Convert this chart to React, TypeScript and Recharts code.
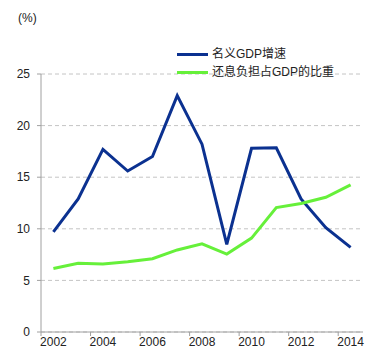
import { LineChart, Line, XAxis, YAxis, CartesianGrid, Legend } from 'recharts';

const years = ['2002', '2003', '2004', '2005', '2006', '2007', '2008', '2009', '2010', '2011', '2012', '2013', '2014'];
const gdpGrowth = [9.7, 12.9, 17.7, 15.6, 17.0, 22.9, 18.2, 8.5, 17.8, 17.85, 12.9, 10.1, 8.2];
const interestBurden = [6.15, 6.65, 6.6, 6.8, 7.1, 7.95, 8.55, 7.55, 9.1, 12.05, 12.45, 13.05, 14.25];
const yTicks = [0, 5, 10, 15, 20, 25];

const seriesNames = ['名义GDP增速', '还息负担占GDP的比重'];
const colors = ['#0b3190', '#66f03a'];

const data = years.map((year, i) => ({
  year,
  gdp: gdpGrowth[i],
  burden: interestBurden[i],
}));

const FONT = '"Liberation Sans", Arial, "Noto Sans CJK SC", sans-serif';

// labels sit in the middle of the category, tick marks on the left boundary
const YearTick = (props: any) => {
  const { x, y, payload } = props;
  const axisY = y - 8;
  const half = 12.4;
  return (
    <g>
      <line x1={x - half} x2={x - half} y1={axisY} y2={axisY + 4} stroke="#a0a0a0" />
      <text x={x} y={axisY + 14} textAnchor="middle" fontSize={12} fill="#222" fontFamily={FONT}>
        {payload.value}
      </text>
    </g>
  );
};

const LegendBox = () => (
  <div style={{ fontFamily: FONT, fontSize: 12, color: '#222', lineHeight: '18px' }}>
    {seriesNames.map((name, i) => (
      <div key={name} style={{ display: 'flex', alignItems: 'center', height: 18 }}>
        <span style={{ display: 'inline-block', width: 31, height: 3, background: colors[i], marginRight: 4 }} />
        <span>{name}</span>
      </div>
    ))}
  </div>
);

export default function App() {
  return (
    <div style={{ position: 'absolute', left: 0, top: 0, width: 375, height: 364, background: '#fff' }}>
      <div
        style={{
          position: 'absolute',
          left: 18,
          top: 11,
          fontSize: 12,
          fontFamily: FONT,
          color: '#222',
        }}
      >
        (%)
      </div>
      <LineChart width={375} height={364} data={data} margin={{ top: 38, right: 12, bottom: 4, left: 0 }}>
        <CartesianGrid vertical={false} stroke="#c4c4c4" strokeDasharray="4 3" />
        <XAxis
          dataKey="year"
          interval={1}
          height={28}
          padding={{ left: 12.4, right: 12.4 }}
          tickSize={4}
          tickMargin={4}
          tickLine={false}
          tick={<YearTick />}
          axisLine={{ stroke: '#a0a0a0' }}
        />
        <YAxis
          domain={[0, 25]}
          ticks={yTicks}
          width={41}
          tickSize={4}
          tickMargin={7}
          axisLine={{ stroke: '#a0a0a0' }}
          tickLine={{ stroke: '#a0a0a0' }}
          tick={{ fontSize: 12, fill: '#222', fontFamily: FONT }}
        />
        <Legend
          content={<LegendBox />}
          layout="vertical"
          verticalAlign="top"
          wrapperStyle={{ position: 'absolute', left: 177, top: 45, width: 'auto' }}
        />
        <Line dataKey="gdp" stroke={colors[0]} strokeWidth={3} dot={false} type="linear" isAnimationActive={false} />
        <Line dataKey="burden" stroke={colors[1]} strokeWidth={3} dot={false} type="linear" isAnimationActive={false} />
      </LineChart>
    </div>
  );
}
